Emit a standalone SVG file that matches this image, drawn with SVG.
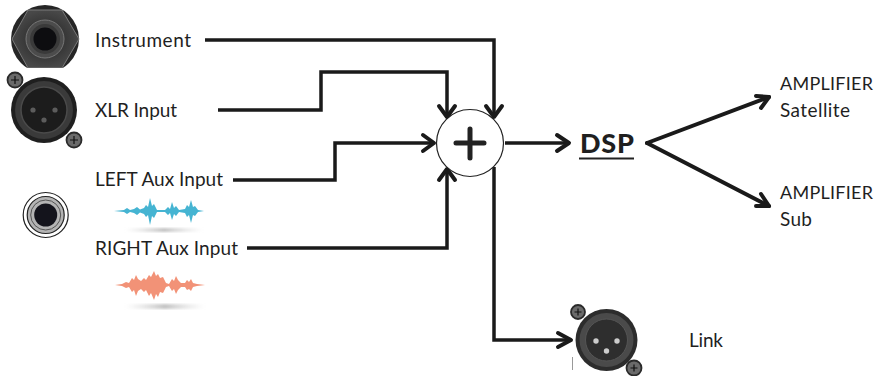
<svg xmlns="http://www.w3.org/2000/svg" width="879" height="376" viewBox="0 0 879 376">
<style>
text{font-family:"Lato","Open Sans","Liberation Sans",sans-serif;fill:#1f1f1f;font-size:19px}
.c{fill:none;stroke:#1a1a1a;stroke-width:3.5;stroke-linejoin:miter}
.h{fill:none;stroke:#1a1a1a;stroke-width:4;stroke-linecap:round;stroke-linejoin:round}
.scr{fill:#6a6a6a;stroke:#2a2a2a;stroke-width:1.800}
.x{stroke:#111;stroke-width:1.200}
</style>
<defs>
<radialGradient id="hex"><stop offset="0" stop-color="#222"/><stop offset=".6" stop-color="#383838"/><stop offset="1" stop-color="#484848"/></radialGradient>
<linearGradient id="sh" x1="0" x2="1"><stop offset="0" stop-color="#ddd" stop-opacity="0"/><stop offset=".5" stop-color="#c4c4c4"/><stop offset="1" stop-color="#ddd" stop-opacity="0"/></linearGradient>
<filter id="bl"><feGaussianBlur stdDeviation="1.200"/></filter>
<filter id="bs"><feGaussianBlur stdDeviation="0.400"/></filter>
<clipPath id="cp"><rect x="0" y="0" width="90" height="68"/></clipPath>
</defs>
<g id="jack-instrument">
<g clip-path="url(#cp)">
<circle cx="45" cy="39" r="34" fill="#262626"/>
<polygon points="12,39 28,10 62,10 79,39 62,68 28,68" fill="url(#hex)" stroke="#7a7a7a" stroke-width="1"/>
<circle cx="45" cy="39" r="19" fill="#4c4c4c" stroke="#777" stroke-width="1"/>
<circle cx="45" cy="39" r="15" fill="#3a3a3a"/>
<circle cx="45" cy="39" r="11.500" fill="#0d0d10"/>
</g>
</g>
<g id="xlr-input">
<circle cx="44" cy="110" r="33" fill="#1f1f1f"/>
<circle cx="44" cy="110" r="29" fill="#3a3a3a"/>
<circle cx="44" cy="110" r="23" fill="#1c1c1c" stroke="#4a4a4a" stroke-width="1.500"/>
<circle cx="33" cy="110" r="2.600" fill="#5c5c5c"/><circle cx="55" cy="110" r="2.600" fill="#5c5c5c"/><circle cx="44" cy="120" r="2.600" fill="#5c5c5c"/>
<circle cx="15" cy="80" r="7.500" class="scr"/><path class="x" d="M11 80h8M15 76v8"/>
<circle cx="74" cy="140" r="7.500" class="scr"/><path class="x" d="M70 140h8M74 136v8"/>
</g>
<g id="jack-aux">
<circle cx="45.700" cy="215" r="22.500" fill="#fff" stroke="#222" stroke-width="1.200"/>
<circle cx="45.700" cy="215" r="18.500" fill="#b4b4b4" stroke="#222" stroke-width="1.200"/>
<circle cx="45.700" cy="215" r="15" fill="none" stroke="#555"/>
<circle cx="45.700" cy="215" r="11.500" fill="#14141c"/>
</g>
<g id="label-instrument"><text x="95" y="46.500" textLength="96">Instrument</text></g>
<g id="label-xlr"><text x="95" y="116.500" textLength="82">XLR Input</text></g>
<g id="label-left"><text x="95" y="186" textLength="128">LEFT Aux Input</text></g>
<g id="label-right"><text x="95" y="255" textLength="143">RIGHT Aux Input</text></g>
<g id="wave-left">
<rect x="125" y="228" width="78" height="4" fill="url(#sh)" filter="url(#bl)"/>
<polygon fill="#45b4d2" filter="url(#bs)" points="114,211 124,210 127,208 130,210 134,209 137,207 140,209.500 144,208 146,205 148,207 150,198 152,206 154,204 157,210 165,210 168,207 170,209 172,202 174,208 176,206 179,210 185,209 187,205 189,207 191,200 193,207 195,206 198,210 204,211 198,212 195,216 193,215 191,223 189,215 187,217 185,213 179,212 176,216 174,214 172,220 170,213 168,215 165,212 157,212 154,218 152,216 150,225 148,215 146,217 144,214 140,212.500 137,215 134,213 130,212 127,214 124,212"/>
</g>
<g id="wave-right">
<rect x="125" y="304" width="80" height="5" fill="url(#sh)" filter="url(#bl)"/>
<polygon fill="#f29277" filter="url(#bs)" points="115,285 122,284 126,282 129,283 132,278 134,280 136,275 138,279 141,281 144,278 146,280 149,275 151,277 154,271 156,276 158,274 160,278 163,277 166,283 169,284 172,279 174,281 176,276 178,280 181,283 185,283 187,280 189,282 191,279 193,283 197,284 205,285 197,286 193,287 191,291 189,289 187,290 185,287 181,287 178,290 176,294 174,289 172,291 169,286 166,287 163,293 160,292 158,297 156,294 154,300 151,293 149,296 146,290 144,292 141,289 138,291 136,296 134,290 132,292 129,287 126,288 122,286"/>
</g>
<g id="connectors">
<path class="c" d="M205 40H494V117"/>
<path class="h" d="M486 106L494 117L502 106"/>
<path class="c" d="M218 110H321V72H447V117"/>
<path class="h" d="M439 106L447 117L455 106"/>
<path class="c" d="M233 180H335V143H434"/>
<path class="h" d="M423 135L434 143L423 151"/>
<path class="c" d="M247 248H447V169"/>
<path class="h" d="M439 180L447 169L455 180"/>
<path class="c" d="M505 143H568"/>
<path class="h" d="M557 135L569 143L557 151"/>
<path class="c" d="M494 167V340H570"/>
<path class="h" d="M558 333L571 340L558 347"/>
<path class="h" d="M647 143L769 97"/>
<path class="h" d="M756 96L769 97L761 108"/>
<path class="h" d="M647 143L769 206"/>
<path class="h" d="M761 194L769 206L756 206"/>
</g>
<g id="sum">
<circle cx="470" cy="143" r="33.500" fill="#fff" stroke="#222" stroke-width="1.200"/>
<path d="M456 143H484M470 129V158" fill="none" stroke="#222" stroke-width="5" stroke-linecap="round"/>
</g>
<g id="dsp">
<text x="580" y="153" textLength="54" style="font-size:27px;font-weight:900">DSP</text>
<path d="M579 158.500H634" stroke="#222" stroke-width="1.800"/>
</g>
<g id="amp-sat"><text x="780" y="90" textLength="93" style="font-size:18px">AMPLIFIER</text><text x="780" y="117" textLength="70">Satellite</text></g>
<g id="amp-sub"><text x="780" y="199" textLength="93" style="font-size:18px">AMPLIFIER</text><text x="780" y="226" textLength="32">Sub</text></g>
<g id="xlr-link">
<circle cx="606.500" cy="340" r="31" fill="#2c2c2c"/>
<circle cx="606.500" cy="340" r="27" fill="#4a4a4a"/>
<circle cx="606.500" cy="340" r="21" fill="#2e2e2e" stroke="#555"/>
<circle cx="596" cy="341" r="2.700" fill="#ccc"/><circle cx="617" cy="341" r="2.700" fill="#ccc"/><circle cx="606.500" cy="351" r="2.700" fill="#ccc"/>
<circle cx="578" cy="312" r="7" class="scr"/><path class="x" d="M574.500 312h7M578 308.500v7"/>
<circle cx="634" cy="368" r="7.500" class="scr"/><path class="x" d="M630.500 368h7M634 364.500v7"/>
<path d="M572.500 357V370" stroke="#999"/>
</g>
<g id="label-link"><text x="689" y="347" textLength="34">Link</text></g>
</svg>
